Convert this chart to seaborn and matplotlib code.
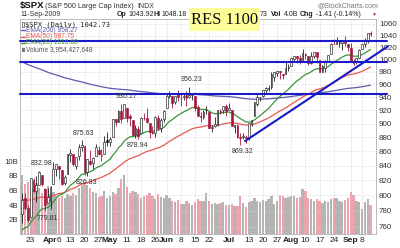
import numpy as np
import pandas as pd
import matplotlib
matplotlib.use("Agg")
import matplotlib.pyplot as plt
import seaborn as sns
from matplotlib.ticker import FixedLocator, NullLocator
from matplotlib.patches import Rectangle

# ---------------- data ----------------
dates = ["2009-03-18", "2009-03-19", "2009-03-20", "2009-03-23", "2009-03-24", "2009-03-25", "2009-03-26", "2009-03-27", "2009-03-30", "2009-03-31",
         "2009-04-01", "2009-04-02", "2009-04-03", "2009-04-06", "2009-04-07", "2009-04-08", "2009-04-09", "2009-04-13", "2009-04-14", "2009-04-15",
         "2009-04-16", "2009-04-17", "2009-04-20", "2009-04-21", "2009-04-22", "2009-04-23", "2009-04-24", "2009-04-27", "2009-04-28", "2009-04-29",
         "2009-04-30", "2009-05-01", "2009-05-04", "2009-05-05", "2009-05-06", "2009-05-07", "2009-05-08", "2009-05-11", "2009-05-12", "2009-05-13",
         "2009-05-14", "2009-05-15", "2009-05-18", "2009-05-19", "2009-05-20", "2009-05-21", "2009-05-22", "2009-05-26", "2009-05-27", "2009-05-28",
         "2009-05-29", "2009-06-01", "2009-06-02", "2009-06-03", "2009-06-04", "2009-06-05", "2009-06-08", "2009-06-09", "2009-06-10", "2009-06-11",
         "2009-06-12", "2009-06-15", "2009-06-16", "2009-06-17", "2009-06-18", "2009-06-19", "2009-06-22", "2009-06-23", "2009-06-24", "2009-06-25",
         "2009-06-26", "2009-06-29", "2009-06-30", "2009-07-01", "2009-07-02", "2009-07-06", "2009-07-07", "2009-07-08", "2009-07-09", "2009-07-10",
         "2009-07-13", "2009-07-14", "2009-07-15", "2009-07-16", "2009-07-17", "2009-07-20", "2009-07-21", "2009-07-22", "2009-07-23", "2009-07-24",
         "2009-07-27", "2009-07-28", "2009-07-29", "2009-07-30", "2009-07-31", "2009-08-03", "2009-08-04", "2009-08-05", "2009-08-06", "2009-08-07",
         "2009-08-10", "2009-08-11", "2009-08-12", "2009-08-13", "2009-08-14", "2009-08-17", "2009-08-18", "2009-08-19", "2009-08-20", "2009-08-21",
         "2009-08-24", "2009-08-25", "2009-08-26", "2009-08-27", "2009-08-28", "2009-08-31", "2009-09-01", "2009-09-02", "2009-09-03", "2009-09-04",
         "2009-09-08", "2009-09-09", "2009-09-10", "2009-09-11"]

opens = [776, 797, 784, 772, 820, 806, 814, 828, 809, 790,
         793, 815, 835, 839, 834, 817, 829, 855, 856, 839,
         854, 866, 868, 831, 847, 844, 853, 862, 854, 856,
         876, 873, 880, 907, 903, 919, 909, 923, 911, 906,
         884, 892, 886, 909, 908, 901, 888, 887, 909, 893,
         907, 923, 942, 942, 932, 945, 938, 940, 943, 940,
         943, 942, 925, 911, 910, 920, 918, 893, 896, 899,
         918, 920, 927, 920, 921, 895, 898, 881, 881, 880,
         880, 900, 911, 930, 940, 942, 951, 953, 956, 972,
         978, 981, 977, 977, 986, 990, 1001, 1005, 1003, 999,
         1009, 1006, 994, 1006, 1012, 999, 980, 986, 996, 1009,
         1026, 1026, 1028, 1027, 1032, 1025, 1019, 997, 996, 1003,
         1018, 1025, 1032, 1043.92]
highs = [803, 803, 788, 823, 823, 826, 832.98, 828, 809, 810,
         813, 845, 843, 839, 834, 828, 856, 864, 856, 852,
         870, 875.63, 868, 850, 862, 852, 871, 868, 864, 882,
         888, 880, 907, 907, 920, 929, 930.17, 923, 915, 906,
         898, 896, 910, 916, 924, 901, 896, 911, 913, 909,
         920, 947, 950, 942, 942, 951, 946, 946, 949, 956.23,
         946, 942, 928, 918, 921, 927, 918, 898, 910, 921,
         922, 927, 930, 931, 921, 898, 898, 886, 887, 883,
         901, 905, 933, 943, 941, 951, 956, 959, 979, 979,
         982, 981, 977, 996, 993, 1003, 1006, 1006, 1008, 1018,
         1010, 1006, 1013, 1013, 1012, 999, 991, 999, 1008, 1027,
         1035, 1037, 1032, 1033, 1040, 1025, 1028, 1000, 1003, 1017,
         1026, 1036, 1044, 1048.18]
lows = [765, 781, 766, 772, 805, 791, 814, 813, 779.81, 790,
        783, 815, 826, 822, 814, 814, 829, 845, 839, 836,
        848, 860, 826.83, 826, 841, 835, 853, 855, 847, 856,
        868, 867, 880, 897, 903, 901, 909, 903, 896, 882,
        878.94, 878, 886, 905, 901, 879, 885, 881, 891, 888,
        903, 923, 938, 923, 929, 934, 926, 936, 927, 939,
        936, 919, 911, 903, 907, 915, 893, 888, 895, 896,
        915, 916, 912, 920, 896, 886, 879, 869.32, 878, 872,
        876, 896, 911, 927, 934, 940, 945, 949, 953, 965,
        973, 969, 968, 977, 982, 990, 996, 994, 992, 999,
        1001, 991, 993, 1003, 994, 980, 980, 980, 996, 1009,
        1025, 1026, 1021, 1016, 1023, 1014, 996, 991, 992, 1002,
        1018, 1021, 1028, 1038.73]
closes = [794, 784, 769, 823, 806, 814, 832, 815, 787, 798,
          811, 835, 843, 835, 815, 825, 856, 858, 842, 852,
          866, 869, 832, 850, 843, 851, 866, 857, 855, 873,
          873, 877, 907, 903, 919, 907, 929, 909, 908, 883,
          893, 882, 909, 908, 903, 888, 887, 910, 893, 906,
          919, 942, 945, 931, 942, 940, 939, 942, 939, 944,
          946, 923, 911, 910, 918, 921, 893, 895, 900, 920,
          918, 927, 919, 923, 896, 898, 881, 879, 882, 879,
          901, 905, 933, 940, 940, 951, 954, 955, 976, 979,
          982, 979, 975, 986, 987, 1002, 1005, 1002, 997, 1010,
          1007, 994, 1005, 1012, 1004, 980, 990, 997, 1007, 1026,
          1025, 1029, 1029, 1031, 1028, 1021, 998, 994, 1003, 1016,
          1025, 1033, 1044, 1042.73]
volumes_b = [8.1, 6.9, 7.2, 6.5, 6.2, 7.0, 6.3, 5.6, 6.4, 6.6,
             5.5, 5.8, 5.2, 5.0, 5.3, 4.9, 5.5, 5.2, 5.6, 5.4,
             6.4, 6.8, 7.2, 6.7, 6.4, 5.8, 5.6, 5.1, 5.3, 5.9,
             5.0, 5.3, 5.8, 5.5, 6.4, 7.6, 8.1, 6.5, 5.7, 6.0,
             5.8, 5.5, 4.9, 5.2, 5.4, 5.6, 5.2, 4.8, 5.5, 5.1,
             5.0, 5.4, 5.0, 4.6, 4.4, 4.7, 4.1, 4.2, 4.6, 4.3,
             4.0, 4.4, 4.8, 4.5, 4.6, 5.6, 4.5, 4.2, 4.3, 4.2,
             4.3, 4.4, 4.0, 4.0, 4.1, 3.8, 3.9, 5.2, 4.3, 3.7,
             4.4, 4.6, 4.9, 4.5, 4.4, 4.7, 4.6, 4.8, 5.3, 4.2,
             4.5, 5.4, 5.2, 4.9, 5.1, 5.3, 5.2, 5.0, 5.1, 6.2,
             5.9, 5.0, 4.8, 4.6, 4.8, 4.6, 4.3, 4.5, 4.4, 4.8,
             4.9, 5.0, 4.5, 4.4, 4.7, 4.9, 5.8, 5.4, 4.5, 4.4,
             3.4, 4.4, 4.8, 4.0]

# EMA starting values
ema_seeds = {"EMA(200)": 998, "EMA(50)": 795, "EMA(20)": 752}
ema_spans = {"EMA(200)": 200, "EMA(50)": 50, "EMA(20)": 20}
ema_colors = {"EMA(200)": "#5a5aae", "EMA(50)": "#e8584f", "EMA(20)": "#3b943b"}
ema_legend = ["EMA(200) 958.27", "EMA(50) 987.75", "EMA(20) 1016.60"]

tick_dates = ["2009-03-23", "2009-04-01", "2009-04-06", "2009-04-13", "2009-04-20", "2009-04-27",
              "2009-05-01", "2009-05-11", "2009-05-18", "2009-05-26", "2009-06-01", "2009-06-08",
              "2009-06-15", "2009-06-22", "2009-07-01", "2009-07-13", "2009-07-20", "2009-07-27",
              "2009-08-03", "2009-08-10", "2009-08-17", "2009-08-24", "2009-09-01", "2009-09-08"]
tick_labels = ["23", "Apr", "6", "13", "20", "27", "May", "11", "18", "26", "Jun", "8", "15", "22",
               "Jul", "13", "20", "27", "Aug", "10", "17", "24", "Sep", "8"]
price_ticks = list(range(760, 1061, 20))
vol_ticks = [2, 4, 6, 8, 10]
vol_tick_labels = ["2B", "4B", "6B", "8B", "10B"]

# marked highs/lows
mark_dates = ["2009-03-26", "2009-03-30", "2009-04-17", "2009-04-20", "2009-05-08", "2009-05-14", "2009-06-11", "2009-07-08"]
mark_values = [832.98, 779.81, 875.63, 826.83, 930.17, 878.94, 956.23, 869.32]
mark_side = ["hi", "lo", "hi", "lo", "hi", "lo", "hi", "lo"]

# drawn support / resistance lines
hline_levels = [1031, 996, 945]
trend_dates_idx = [78.7, 129.2]
trend_values = [874.7, 1022]

# ---------------- figure ----------------
sns.set_style("white")
plt.rcParams["font.family"] = ["Liberation Sans", "DejaVu Sans"]

W, H = 400, 248
fig = plt.figure(figsize=(4, 2.48), dpi=100)
fig.patch.set_facecolor("white")


def fx(px):
    return px / W


def fy(py):
    return 1 - py / H


L, R, T, B = 20, 376, 19, 234
X0, STEP = 22.2, 2.832
axv = fig.add_axes([fx(L), fy(B), (R - L) / W, (B - T) / H])
ax = axv.twinx()

n = len(dates)
idx = np.arange(n)
df = pd.DataFrame({"date": dates, "open": opens, "high": highs, "low": lows,
                   "close": closes, "vol": volumes_b})
prev = df["close"].shift(1).fillna(df["open"])
down = df["close"] < prev

# volume
vcols = np.where(down, "#eba4ad", "#b4b4b4")
axv.bar(idx, df["vol"], width=0.82, color=vcols, linewidth=0, zorder=2)
axv.set_ylim(0, 215 / 14.5 * 2)
axv.set_xlim((L - X0) / STEP, (R - X0) / STEP)
axv.yaxis.set_major_locator(FixedLocator(vol_ticks))
axv.set_yticklabels(vol_tick_labels)
axv.tick_params(axis="y", length=0, pad=1.5, labelsize=5.6, colors="#333333")
pos = [dates.index(d) for d in tick_dates]
axv.set_xticks(pos)
axv.set_xticklabels(tick_labels)
for lab, txt in zip(axv.get_xticklabels(), tick_labels):
    if not txt.isdigit():
        lab.set_fontweight("bold")
axv.tick_params(axis="x", length=0, pad=2.2, labelsize=6, colors="#222222")
axv.set_axisbelow(True)
axv.xaxis.grid(True, color="#d4d4d4", lw=0.5, ls=(0, (1, 1)))
axv.yaxis.grid(False)
for s in axv.spines.values():
    s.set_color("#b0b0b0")
    s.set_linewidth(0.6)

# price (log)
ax.set_yscale("log")
ax.set_ylim(751, 1068.7)
ax.yaxis.set_major_locator(FixedLocator(price_ticks))
ax.yaxis.set_minor_locator(NullLocator())
ax.set_yticklabels([str(v) for v in price_ticks])
ax.tick_params(axis="y", length=0, pad=2.2, labelsize=5.8, colors="#333333")
ax.yaxis.grid(True, color="#d4d4d4", lw=0.5, ls=(0, (1, 1)))
for s in ax.spines.values():
    s.set_visible(False)

# EMAs
for name in ["EMA(200)", "EMA(50)", "EMA(20)"]:
    alpha = 2 / (ema_spans[name] + 1)
    vals = []
    e = ema_seeds[name]
    for c in closes:
        e = alpha * c + (1 - alpha) * e
        vals.append(e)
    sns.lineplot(x=idx, y=vals, ax=ax, color=ema_colors[name], lw=0.9, zorder=3)

# candles
red = "#a3163c"
blk = "#1e1e1e"
ccol = np.where(down, red, blk)
hollow = df["close"] > df["open"]
fill = np.where(hollow, "white", ccol)
ax.vlines(idx, df["low"], df["high"], colors=ccol, lw=0.6, zorder=4)
bottoms = np.minimum(df["open"], df["close"])
heights = np.maximum(np.abs(df["close"] - df["open"]), 0.6)
ax.bar(idx, heights, bottom=bottoms, width=0.62, color=fill, edgecolor=ccol,
       linewidth=0.45, zorder=5)

# support / resistance lines
xl = (L - X0) / STEP
xr = (387 - X0) / STEP
for lvl in hline_levels:
    ax.plot([xl, xr], [lvl, lvl], color="#1a1acb", lw=1.5, clip_on=False, zorder=6)
ax.plot(trend_dates_idx, trend_values, color="#1a1acb", lw=1.5, clip_on=False, zorder=6)

# value marks
for d, v, side in zip(mark_dates, mark_values, mark_side):
    i = dates.index(d)
    off = 5.2 if side == "hi" else -5.0
    ax.annotate(f"{v:.2f}", (i, v), xytext=(1.5, off), textcoords="offset points",
                ha="center", va="center", fontsize=5.0, color="#333333", zorder=7)

ax.set_xlim((L - X0) / STEP, (R - X0) / STEP)
ax.set_xlabel("")
ax.set_ylabel("")
axv.set_xlabel("")
axv.set_ylabel("")

# ---------------- header ----------------
fig.text(fx(20), fy(5.7), "$SPX", fontsize=6.8, fontweight="bold", va="center", ha="left", color="#111111")
fig.text(fx(45), fy(6.0), "(S&P 500 Large Cap Index)", fontsize=5.2, va="center", ha="left", color="#333333")
fig.text(fx(137), fy(6.0), "INDX", fontsize=5.0, va="center", ha="left", color="#333333")
fig.text(fx(317), fy(5.5), "@StockCharts.com", fontsize=5.0, va="center", ha="left", color="#777777")
fig.text(fx(20), fy(14.5), "11-Sep-2009", fontsize=5.0, va="center", ha="left", color="#333333")
segs = [(117, "Op", True), (128.5, "1043.92", False), (153, "Hi", True), (161, "1048.18", False),
        (260, "73", False), (271, "Vol", True), (284, "4.0B", False),
        (300, "Chg", True), (316, "-1.41 (-0.14%)", False)]
for x, t, b in segs:
    fig.text(fx(x), fy(14.5), t, fontsize=5.0, va="center", ha="left", color="#222222",
             fontweight="bold" if b else "normal")
fig.text(fx(373), fy(14.5), "\u25BC", fontsize=3.5, va="center", ha="center", color="#cc2233")

# RES 1100 box
fig.patches.append(Rectangle((fx(189), fy(31)), 71 / W, 23 / H, transform=fig.transFigure,
                             facecolor="#ffff99", edgecolor="none", zorder=10))
fig.text(fx(224.5), fy(19.5), "RES 1100", fontsize=12, family="Liberation Serif",
         va="center", ha="center", color="#111111", zorder=11)

# legend inside plot
fig.patches.append(Rectangle((fx(21.5), fy(27)), 2 / W, 5 / H, transform=fig.transFigure,
                             facecolor="white", edgecolor="#222222", linewidth=0.4, zorder=8))
fig.text(fx(25), fy(24.3), "$SPX (Daily) 1042.73", fontsize=5.1, family="DejaVu Sans Mono",
         va="center", ha="left", color="#222222", zorder=8)
leg_y = [30.3, 36.6, 43.0]
for y, txt, name in zip(leg_y, ema_legend, ["EMA(200)", "EMA(50)", "EMA(20)"]):
    fig.lines.append(plt.Line2D([fx(21), fx(25)], [fy(y), fy(y)], transform=fig.transFigure,
                                color=ema_colors[name], lw=1.0, zorder=8))
    fig.text(fx(25.5), fy(y), txt, fontsize=4.8, va="center", ha="left",
             color=ema_colors[name], zorder=8)
fig.patches.append(Rectangle((fx(21.5), fy(51.5)), 3 / W, 4 / H, transform=fig.transFigure,
                             facecolor="#777777", edgecolor="none", zorder=8))
fig.text(fx(25.5), fy(49.5), "Volume 3,954,427,648", fontsize=4.8, va="center", ha="left",
         color="#555555", zorder=8)

fig.savefig("out.png", dpi=100, facecolor="white")
